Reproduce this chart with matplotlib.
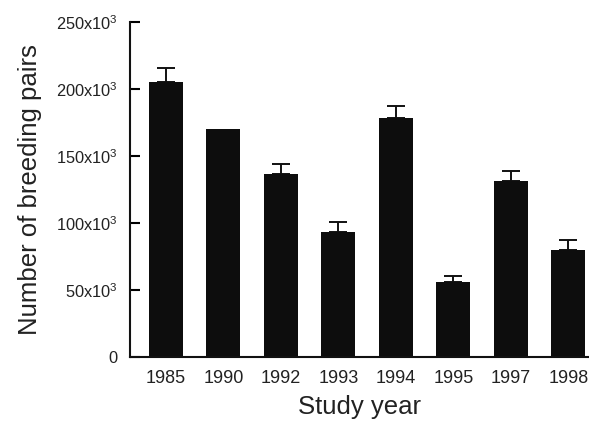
import matplotlib.pyplot as plt
import numpy as np

plt.rcParams['font.family'] = ['Liberation Sans', 'DejaVu Sans']
plt.rcParams['mathtext.fontset'] = 'custom'
plt.rcParams['mathtext.rm'] = 'Liberation Sans'
plt.rcParams['mathtext.default'] = 'regular'

years = ["1985", "1990", "1992", "1993", "1994", "1995", "1997", "1998"]
pairs = [205.5, 170, 136.5, 93.5, 178, 56, 131, 79.5]   # thousands
errors = [10, 0, 7.5, 7, 9.5, 4.5, 8, 8]
yticks = [0, 50, 100, 150, 200, 250]
ytick_labels = ["0", "50x10$^3$", "100x10$^3$", "150x10$^3$", "200x10$^3$", "250x10$^3$"]

fig = plt.figure(figsize=(5.89, 4.23), dpi=100)
ax = fig.add_axes([0.2207, 0.156, 0.7793, 0.792])

x = np.arange(len(years))
ax.bar(x, pairs, width=0.59, color='#0d0d0d', zorder=2)

# only upper error bars, skip years without a reported error
for xi, v, e in zip(x, pairs, errors):
    if e > 0:
        ax.errorbar(xi, v, yerr=[[0], [e]], fmt='none', ecolor='#111111',
                    elinewidth=1.4, capsize=6.5, capthick=1.4, zorder=1)

ax.set_xlim(-0.626, 7.36)
ax.set_ylim(0, 250)
ax.set_xticks(x)
ax.set_xticklabels(years, fontsize=13, color='#222222')
ax.set_yticks(yticks)
ax.set_yticklabels(ytick_labels, fontsize=11.8, color='#222222')
ax.tick_params(axis='x', length=0, pad=9)
ax.tick_params(axis='y', direction='in', length=7, width=1.5, pad=9)

for side in ['top', 'right']:
    ax.spines[side].set_visible(False)
for side in ['left', 'bottom']:
    ax.spines[side].set_linewidth(1.5)
    ax.spines[side].set_color('#111111')

ax.set_xlabel("Study year", fontsize=18.5, color='#222222', labelpad=6)
ax.set_ylabel("Number of breeding pairs", fontsize=18.5, color='#222222', labelpad=10)

fig.savefig("out.png", dpi=100)
